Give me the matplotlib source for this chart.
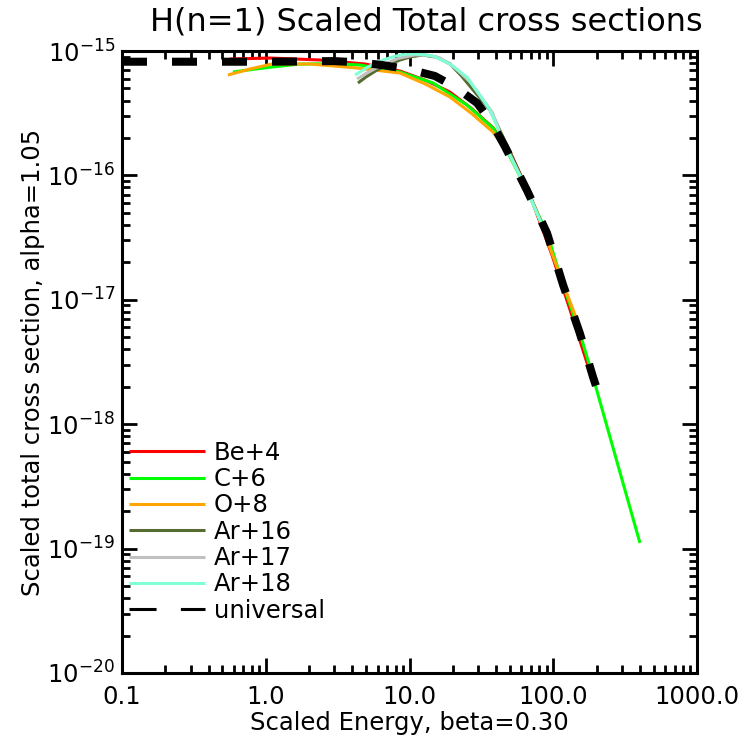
import matplotlib
matplotlib.use("Agg")
import matplotlib.pyplot as plt
from matplotlib.lines import Line2D
from matplotlib.ticker import FixedLocator, FixedFormatter, LogLocator, NullFormatter

plt.rcParams['font.family'] = ['DejaVu Sans']
plt.rcParams['lines.scale_dashes'] = False
plt.rcParams['mathtext.default'] = 'regular'

# Scaled energy / scaled total cross section for each projectile
be4_x = [0.564, 1.07, 2.38, 4.9, 8.59, 13.0, 19.1, 27.0, 38.1, 50.0, 70.0, 98.0,
         131.0, 172.0, 186.0]
be4_y = [8.62e-16, 8.78e-16, 8.47e-16, 7.86e-16, 6.9e-16, 5.8e-16, 4.68e-16,
         3.45e-16, 2.42e-16, 1.55e-16, 6.6e-17, 2.29e-17, 8.28e-18, 3.1e-18, 2.5e-18]

c6_x = [0.591, 0.8, 1.105, 1.73, 3.0, 4.53, 8.59, 14.6, 25.1, 38.1, 46.2, 65.6,
        90.5, 117.0, 153.0, 189.0, 401.0]
c6_y = [6.78e-16, 7.1e-16, 7.43e-16, 7.86e-16, 7.9e-16, 7.71e-16, 6.78e-16,
        5.53e-16, 3.68e-16, 2.40e-16, 1.69e-16, 7.6e-17, 3.44e-17, 1.32e-17,
        5.4e-18, 2.4e-18, 1.11e-19]

o8_x = [0.546, 0.776, 1.105, 2.03, 4.32, 8.59, 13.0, 19.1, 27.0, 38.1, 50.0,
        75.0, 106.0, 146.0]
o8_y = [6.41e-16, 7.16e-16, 7.86e-16, 7.86e-16, 7.3e-16, 6.65e-16, 5.4e-16,
        4.27e-16, 3.15e-16, 2.23e-16, 1.46e-16, 5.5e-17, 1.84e-17, 6.89e-18]

ar16_x = [4.38, 5.0, 5.94, 7.2, 8.59, 10.3, 12.4, 15.5, 19.1, 23.0, 27.7, 36.3,
          44.7, 65.6, 94.8]
ar16_y = [5.53e-16, 6.2e-16, 7.03e-16, 7.8e-16, 8.47e-16, 9.0e-16, 9.29e-16,
          8.9e-16, 7.9e-16, 6.3e-16, 4.86e-16, 3.36e-16, 2.04e-16, 7.8e-17, 2.86e-17]

ar17_x = [4.32, 5.1, 6.24, 8.3, 10.9, 13.3, 16.3, 20.5, 26.4, 37.5, 46.2, 65.6, 94.8]
ar17_y = [5.96e-16, 6.7e-16, 7.57e-16, 8.7e-16, 9.29e-16, 9.25e-16, 8.78e-16,
          7.4e-16, 5.64e-16, 3.24e-16, 1.75e-16, 7.7e-17, 2.86e-17]

ar18_x = [4.18, 5.2, 6.55, 8.0, 9.62, 12.0, 14.6, 19.0, 25.1, 36.3, 46.2, 65.6, 94.8]
ar18_y = [6.41e-16, 7.5e-16, 8.47e-16, 9.1e-16, 9.46e-16, 9.4e-16, 9.12e-16,
          7.9e-16, 6.18e-16, 3.36e-16, 1.75e-16, 7.6e-17, 2.86e-17]

univ_x = [0.1, 0.5, 1.0, 2.0, 2.94, 4.5, 6.5, 10.0, 15.0, 21.0, 29.5, 37.0, 46.2,
          65.6, 90.5, 117.0, 153.0, 189.0, 198.0]
univ_y = [8.2e-16, 8.2e-16, 8.2e-16, 8.25e-16, 8.3e-16, 8.1e-16, 7.7e-16, 7.1e-16,
          6.3e-16, 5.1e-16, 3.82e-16, 2.7e-16, 1.70e-16, 7.6e-17, 3.44e-17,
          1.32e-17, 5.4e-18, 2.4e-18, 2.04e-18]

series = [
    ("Be+4", be4_x, be4_y, "#ff0000"),
    ("C+6", c6_x, c6_y, "#00ff00"),
    ("O+8", o8_x, o8_y, "#ffa500"),
    ("Ar+16", ar16_x, ar16_y, "#556b2f"),
    ("Ar+17", ar17_x, ar17_y, "#c0c0c0"),
    ("Ar+18", ar18_x, ar18_y, "#7fffd4"),
]

x_ticks = [0.1, 1.0, 10.0, 100.0, 1000.0]
x_tick_labels = ["0.1", "1.0", "10.0", "100.0", "1000.0"]

fig = plt.figure(figsize=(7.45, 7.41), dpi=100)
ax = fig.add_axes([122 / 745, 1 - 673 / 741, 575 / 745, 622 / 741])

handles = []
for name, xs, ys, col in series:
    ln, = ax.plot(xs, ys, color=col, lw=2.2, solid_capstyle='butt')
    handles.append(ln)

ax.plot(univ_x, univ_y, color='black', lw=5.8, dashes=(18, 18),
        dash_capstyle='butt')
handles.append(Line2D([], [], color='black', lw=2.2, dashes=(19.5, 17.5),
                      dash_capstyle='butt'))

ax.set_xscale('log')
ax.set_yscale('log')
ax.set_xlim(0.1, 1000)
ax.set_ylim(1e-20, 1e-15)

ax.xaxis.set_major_locator(FixedLocator(x_ticks))
ax.xaxis.set_major_formatter(FixedFormatter(x_tick_labels))
ax.xaxis.set_minor_locator(LogLocator(base=10, subs=range(2, 10), numticks=20))
ax.xaxis.set_minor_formatter(NullFormatter())
ax.yaxis.set_major_locator(FixedLocator([1e-20, 1e-19, 1e-18, 1e-17, 1e-16, 1e-15]))
ax.yaxis.set_major_formatter(FixedFormatter(
    [r"$10^{-20}$", r"$10^{-19}$", r"$10^{-18}$", r"$10^{-17}$", r"$10^{-16}$",
     r"$10^{-15}$"]))
ax.yaxis.set_minor_locator(LogLocator(base=10, subs=range(2, 10), numticks=20))
ax.yaxis.set_minor_formatter(NullFormatter())

ax.tick_params(which='both', direction='in', top=True, right=True, width=2,
               labelsize=17.5)
ax.tick_params(axis='x', which='major', pad=9)
ax.tick_params(axis='y', which='major', pad=5)
ax.tick_params(which='major', length=11)
ax.tick_params(which='minor', length=6)
for s in ax.spines.values():
    s.set_linewidth(2.2)

ax.set_title("H(n=1) Scaled Total cross sections", fontsize=23, pad=15,
             x=(426 - 122) / 575)
ax.set_xlabel("Scaled Energy, beta=0.30", fontsize=17.5, labelpad=1)
ax.set_ylabel("Scaled total cross section, alpha=1.05", fontsize=17.5, labelpad=2)

fs = 17.5
ax.legend(handles, [s[0] for s in series] + ["universal"], loc='upper left',
          bbox_to_anchor=(0.0, 0.385), frameon=False, fontsize=fs,
          handlelength=76 / (fs * 100 / 72), handletextpad=0.35,
          labelspacing=0.095, borderaxespad=0.0, borderpad=0.3)

fig.savefig("out.png", dpi=100)
